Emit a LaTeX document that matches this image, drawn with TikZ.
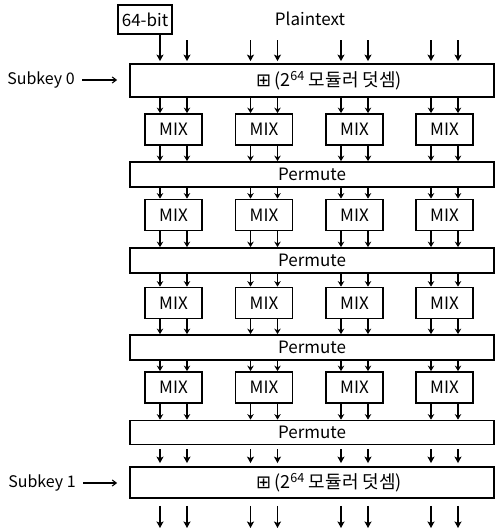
\documentclass[tikz,border=0pt]{standalone}
\usepackage{fontspec}
\setmainfont{Noto Sans CJK KR}
\newfontfamily\symfont{DejaVu Sans}
\usetikzlibrary{arrows.meta,calc}
\begin{document}
\begin{tikzpicture}[x=1pt,y=-1pt,
  font=\fontsize{17}{20}\selectfont,
  box/.style={draw, line width=1.8pt, inner sep=0pt, fill=white},
  mixbox/.style={box, minimum width=57pt, minimum height=31pt},
  widebox/.style={box, minimum width=364pt},
  sarr/.style={-{Stealth[length=5.5pt,width=6.5pt]}, line width=1.4pt},
  barr/.style={-{Stealth[length=6.5pt,width=7pt,inset=1.5pt]}, line width=1.4pt},
  karr/.style={-{Straight Barb[length=4pt,width=6pt]}, line width=1.1pt}]
\useasboundingbox (0,0) rectangle (496,530);

% top labels
\node[box, minimum width=54pt, minimum height=29pt] (b64) at (145,19.5) {64-bit};
\node (pt) at (310,19) {Plaintext};

% wide boxes
\node[widebox, minimum height=33pt] (a0) at (312,80.5) {};
\node[font=\fontsize{18}{20}\selectfont] (a0t) at (329,80.5) {{\symfont ⊞}\,(2\textsuperscript{64} 모듈러 덧셈)};
\node[widebox, minimum height=25pt] (p1) at (312,174.5) {Permute};
\node[widebox, minimum height=25pt] (p2) at (312,260.5) {Permute};
\node[widebox, minimum height=25pt] (p3) at (312,347.5) {Permute};
\node[widebox, minimum height=24pt] (p4) at (312,432.5) {Permute};
\node[widebox, minimum height=31pt] (a1) at (312,482.5) {};
\node[font=\fontsize{18}{20}\selectfont] (a1t) at (329,482.5) {{\symfont ⊞}\,(2\textsuperscript{64} 모듈러 덧셈)};

% subkeys
\node[font=\fontsize{16}{19}\selectfont] (s0) at (41,80) {Subkey 0};
\node[font=\fontsize{16}{19}\selectfont] (s1) at (42,483) {Subkey 1};
\draw[karr, shorten <=4pt, shorten >=12pt] (s0.east) -- (a0.west |- s0.east);
\draw[karr, shorten <=4pt, shorten >=12pt] (s1.east) -- (a1.west |- s1.east);

% MIX boxes
\foreach \c/\x in {1/173.5,2/264,3/354.5,4/444.5} {
  \foreach \r/\y in {1/129.5,2/215,3/303,4/387.5} {
    \node[mixbox] (m\r\c) at (\x,\y) {MIX};
  }
  \coordinate (t\c) at (\x,40);
  \coordinate (e\c) at (\x,528);
}

% connectors
\foreach \c in {1,2,3,4} {
  \foreach \s in {-13.5,13.5} {
    \foreach \r/\pv/\nx in {1/a0/p1,2/p1/p2,3/p2/p3,4/p3/p4} {
      \draw[sarr] ($(\pv.south -| m\r\c.north)+(\s,0)$) -- ($(m\r\c.north)+(\s,0)$);
      \draw[sarr] ($(m\r\c.south)+(\s,0)$) -- ($(\nx.north -| m\r\c.south)+(\s,0)$);
    }
    \draw[barr, shorten <=4pt, shorten >=3pt] ($(p4.south -| m4\c.south)+(\s,0)$) -- ($(a1.north -| m4\c.south)+(\s,0)$);
    \draw[barr, shorten <=7pt] ($(a1.south -| e\c)+(\s,0)$) -- ($(e\c)+(\s,0)$);
  }
  \draw[barr, shorten >=2pt] ($(t\c)+(13.5,0)$) -- ($(a0.north -| t\c)+(13.5,0)$);
}
\foreach \c in {2,3,4} {
  \draw[barr, shorten >=2pt] ($(t\c)+(-13.5,0)$) -- ($(a0.north -| t\c)+(-13.5,0)$);
}
\draw[barr, shorten >=2pt] ($(b64.south -| t1)+(-13.5,0)$) -- ($(a0.north -| t1)+(-13.5,0)$);
\end{tikzpicture}
\end{document}
